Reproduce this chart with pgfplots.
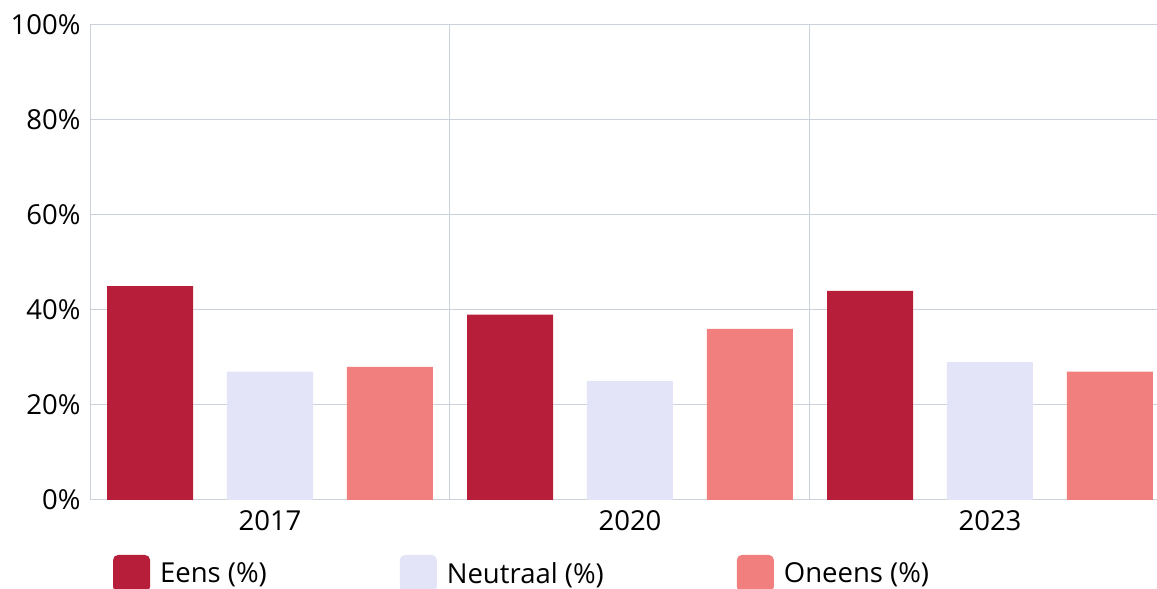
\documentclass[border=0pt]{standalone}
\usepackage{fontspec}
\setmainfont{Open Sans}
\usepackage{pgfplots}
\pgfplotsset{compat=1.18}
\definecolor{eens}{HTML}{B71E3A}
\definecolor{neutraal}{HTML}{E3E4F8}
\definecolor{oneens}{HTML}{F07F7D}
\definecolor{gridc}{HTML}{CCD2DB}
\newcommand{\lblfont}{\fontsize{27.5bp}{33bp}\selectfont}
\begin{document}
\begin{tikzpicture}
\path[use as bounding box, clip] (0,0) rectangle (1157bp,589bp);
\begin{axis}[
  at={(90bp,89bp)}, anchor=south west,
  scale only axis, width=1067bp, height=475bp,
  xmin=-0.5, xmax=2.4639, ymin=0, ymax=100,
  axis lines=left, axis line style={gridc, -, line width=1bp},
  ymajorgrids, xminorgrids,
  grid style={gridc, line width=1bp},
  minor grid style={gridc, line width=1bp},
  major tick length=0pt, minor tick length=0pt,
  xtick={0,1,2}, xticklabels={2017,2020,2023},
  minor xtick={0.5,1.5},
  ytick={0,20,40,60,80,100},
  yticklabels={0\%,20\%,40\%,60\%,80\%,100\%},
  tick label style={font=\lblfont, text=black},
  yticklabel style={xshift=-6bp},
  xticklabel style={yshift=-7bp},
  bar width=0.2389,
  legend columns=3,
  legend image code/.code={\fill[#1, draw=none, rounded corners=5bp] (0bp,-18.5bp) rectangle (37bp,18.5bp);},
  legend style={draw=none, fill=none, font=\lblfont, inner sep=0pt, outer sep=0pt,
    at={(axis description cs:0.0216,-0.1547)}, anchor=west,
    nodes={inner sep=0pt, anchor=west},
    /tikz/every odd column/.append style={column sep=10bp},
    /tikz/every even column/.append style={column sep=133bp}},
]
\addplot[ybar, bar shift=-0.3333, fill=eens, draw=none] coordinates {(0,45) (1,39) (2,44)};
\addplot[ybar, bar shift=0, fill=neutraal, draw=none] coordinates {(0,27) (1,25) (2,29)};
\addplot[ybar, bar shift=0.3333, fill=oneens, draw=none] coordinates {(0,28) (1,36) (2,27)};
\legend{Eens (\%),Neutraal (\%),Oneens (\%)}
\end{axis}
\end{tikzpicture}
\end{document}
